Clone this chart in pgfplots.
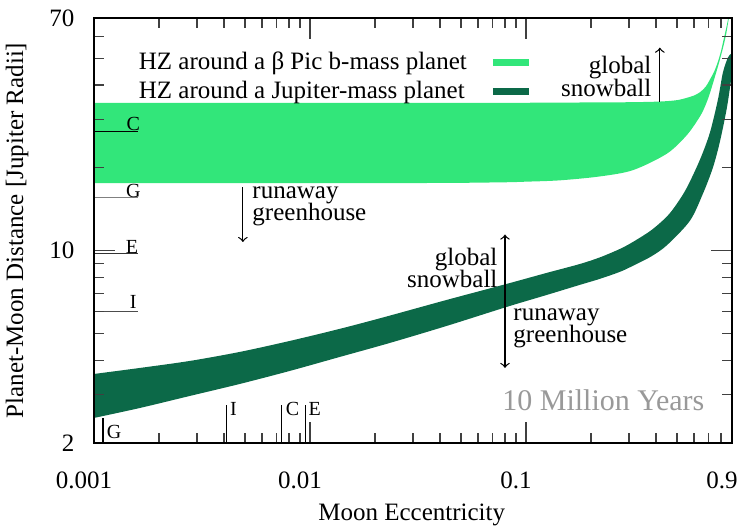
\documentclass[border=0pt]{standalone}
\usepackage{fontspec}
\setmainfont{Liberation Serif}
\usepackage{pgfplots}
\pgfplotsset{compat=1.18}
\usepgfplotslibrary{fillbetween}
\definecolor{lightg}{RGB}{50,230,122}
\definecolor{darkg}{RGB}{12,105,72}
\begin{document}
\begin{tikzpicture}
\begin{axis}[
  scale only axis, width=255.2pt, height=170pt,
  xmode=log, ymode=log,
  xmin=0.001, xmax=0.9, ymin=2, ymax=70,
  axis on top,
  xtick={0.001,0.01,0.1,0.9}, xticklabels={0.001,0.01,0.1,0.9},
  ytick={2,10,70}, yticklabels={2,10,70},
  minor xtick={0.002,0.003,0.004,0.005,0.006,0.007,0.008,0.009,0.02,0.03,0.04,0.05,0.06,0.07,0.08,0.09,0.2,0.3,0.4,0.5,0.6,0.7,0.8},
  minor ytick={3,4,5,6,7,8,9,20,30,40,50,60},
  major tick length=8.5pt, minor tick length=4pt,
  tick style={black!75, line width=0.5pt},
  axis line style={black, line width=0.5pt},
  xticklabel style={yshift=-8pt, xshift=-4pt},
  yticklabel style={xshift=-4.3pt},
  xlabel={Moon Eccentricity},
  ylabel={Planet-Moon Distance [Jupiter Radii]},
  xlabel style={at={(axis description cs:0.498,-0.169)}, anchor=center},
  ylabel style={at={(axis description cs:-0.1207,0.5)}, anchor=center},
  legend style={at={(axis description cs:0.05,0.945)}, anchor=north west, draw=none, fill=none, row sep=-1pt, column sep=7pt, cells={anchor=west}},
  legend plot pos=right,
  legend image code/.code={\draw[#1] (0pt,0pt) -- (14.4pt,0pt);},
]
% beta Pic b HZ band
\addplot[name path=LU, draw=none, smooth, forget plot] coordinates {
(0.001,34.4) (0.05,34.4) (0.15,34.5) (0.3,34.6) (0.417,34.8) (0.5,35.2) (0.556,35.9) (0.6,36.6) (0.639,37.6) (0.68,39.4) (0.711,41.8) (0.745,44.8) (0.774,48.5) (0.8,53) (0.817,57) (0.835,61.5) (0.852,66) (0.87,72) (0.885,78)};
\addplot[name path=LL, draw=none, smooth, forget plot] coordinates {
(0.001,17.6) (0.03,17.6) (0.0758,17.7) (0.1,17.8) (0.1437,18.0) (0.2201,18.6) (0.3129,19.6) (0.4496,22.5) (0.5565,26.3) (0.6392,30.7) (0.6767,33.6) (0.711,37.3) (0.7744,46.6) (0.81,53) (0.8433,60.5) (0.871,70.2) (0.89,78)};
\addplot[fill=lightg, draw=none, forget plot] fill between[of=LU and LL];
% Jupiter HZ band
\addplot[name path=DU, draw=none, smooth, forget plot] coordinates {
(0.001,3.563) (0.001633,3.748) (0.002781,3.974) (0.004736,4.285) (0.008068,4.697) (0.01374,5.196) (0.02224,5.741) (0.04308,6.623) (0.08166,7.573) (0.1251,8.303) (0.1778,8.94) (0.2201,9.45) (0.2724,10.14) (0.3129,10.75) (0.38,11.85) (0.4496,13.3) (0.5,14.8) (0.5565,16.95) (0.6392,21.38) (0.7110,26.82) (0.7744,35.34) (0.8166,44.32) (0.8613,50.24) (0.895,52) (0.93,52.5)};
\addplot[name path=DL, draw=none, smooth, forget plot] coordinates {
(0.001,2.466) (0.001633,2.681) (0.002781,2.965) (0.004736,3.278) (0.008068,3.655) (0.01374,4.108) (0.02346,4.620) (0.04308,5.329) (0.08166,6.246) (0.1251,6.904) (0.1778,7.509) (0.2201,7.897) (0.2724,8.373) (0.3129,8.805) (0.38,9.52) (0.4496,10.46) (0.5744,12.83) (0.6599,16.09) (0.7339,20.0) (0.7910,24.86) (0.8523,33.05) (0.8990,43.58) (0.9282,49.41)};
\addplot[fill=darkg, draw=none, forget plot] fill between[of=DU and DL];
% Galilean moons: distances
\addplot[black, line width=0.5pt, forget plot] coordinates {(0.001,27.0) (0.0016,27.0)};
\addplot[gray, line width=0.5pt, forget plot] coordinates {(0.001,15.6) (0.0016,15.6)};
\addplot[black!80, line width=0.5pt, forget plot] coordinates {(0.001,9.73) (0.0016,9.73)};
\addplot[black!70, line width=0.5pt, forget plot] coordinates {(0.001,5.99) (0.0016,5.99)};
% Galilean moons: eccentricities
\addplot[black, line width=0.5pt, forget plot] coordinates {(0.0011,2) (0.0011,2.47)};
\addplot[black, line width=0.5pt, forget plot] coordinates {(0.0041,2) (0.0041,2.75)};
\addplot[black, line width=0.5pt, forget plot] coordinates {(0.0074,2) (0.0074,2.75)};
\addplot[black, line width=0.5pt, forget plot] coordinates {(0.0095,2) (0.0095,2.75)};
\addlegendimage{lightg, line width=2.8pt}
\addlegendentry{HZ around a β Pic b-mass planet}
\addlegendimage{darkg, line width=2.6pt}
\addlegendentry{HZ around a Jupiter-mass planet}
% moon labels
\node[font=\footnotesize, inner sep=0pt] at (axis cs:0.00152,28.9) {C};
\node[font=\footnotesize, inner sep=0pt] at (axis cs:0.00152,16.5) {G};
\node[font=\footnotesize, inner sep=0pt] at (axis cs:0.00150,10.3) {E};
\node[font=\footnotesize, inner sep=0pt] at (axis cs:0.00152,6.51) {I};
\node[font=\footnotesize, inner sep=0pt, anchor=west] at (axis cs:0.00114,2.19) {G};
\node[font=\footnotesize, inner sep=0pt, anchor=west] at (axis cs:0.00425,2.66) {I};
\node[font=\footnotesize, inner sep=0pt, anchor=west] at (axis cs:0.0077,2.66) {C};
\node[font=\footnotesize, inner sep=0pt, anchor=west] at (axis cs:0.0098,2.66) {E};
% annotations
\draw[->, black, line width=0.5pt] (axis cs:0.417,34.8) -- (axis cs:0.417,54.6);
\node[anchor=east, align=right, inner sep=0pt] at (axis cs:0.383,42.85) {global\\[-3pt]snowball};
\draw[->, black, line width=0.5pt] (axis cs:0.00489,17.0) -- (axis cs:0.00489,10.75);
\node[anchor=west, align=left, inner sep=0pt] at (axis cs:0.00539,14.5) {runaway\\[-3pt]greenhouse};
\draw[<->, black, line width=0.5pt] (axis cs:0.08,3.75) -- (axis cs:0.08,11.43);
\node[anchor=east, align=right, inner sep=0pt] at (axis cs:0.0742,8.66) {global\\[-3pt]snowball};
\node[anchor=west, align=left, inner sep=0pt] at (axis cs:0.0871,5.21) {runaway\\[-3pt]greenhouse};
\node[anchor=west, inner sep=0pt, text=black!40, font=\large] at (axis cs:0.0774,2.87) {10 Million Years};
\end{axis}
\pgfresetboundingbox
\path ([shift={(-37.6pt,-34.4pt)}]current axis.south west) rectangle ([shift={(2pt,7.2pt)}]current axis.north east);
\end{tikzpicture}
\end{document}
